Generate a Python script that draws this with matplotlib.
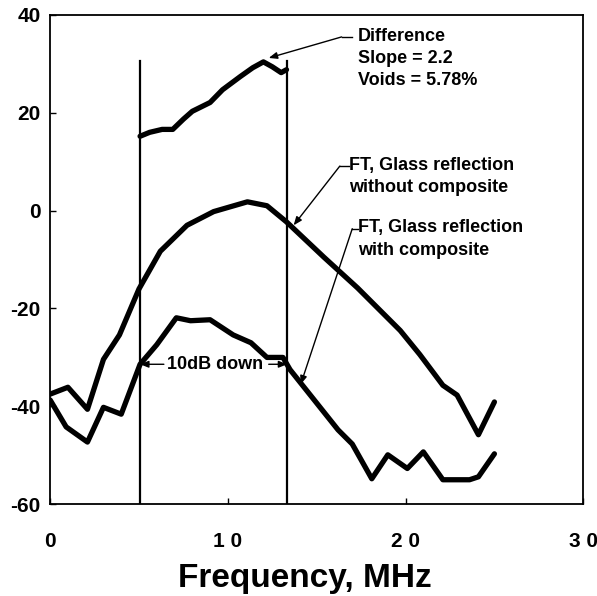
import numpy as np
from matplotlib import pyplot as plt

plt.rcParams['font.family'] = ['Liberation Sans', 'DejaVu Sans']
plt.rcParams['font.weight'] = 'bold'
plt.rcParams['axes.unicode_minus'] = False

# FT, glass reflection without composite
freqNoComp = [0, 1.0, 2.1, 3.0, 3.9, 5.0, 6.2, 7.7, 9.2, 11.1, 12.2, 13.3, 15.4, 17.3, 19.7, 20.8, 22.1, 22.9, 24.1, 25.0]
dbNoComp = [-37.5, -36.1, -40.6, -30.4, -25.4, -16.0, -8.3, -3.0, -0.2, 1.8, 1.0, -2.3, -9.5, -15.8, -24.5, -29.4, -35.7, -37.7, -45.8, -39.1]

# FT, glass reflection with composite
freqComp = [0, 0.9, 2.1, 3.0, 4.0, 5.06, 6.0, 7.1, 7.9, 9.0, 10.3, 11.3, 12.2, 13.1, 13.5, 16.2, 17.0, 18.1, 19.0, 20.1, 21.0, 22.1, 23.6, 24.1, 25.0]
dbComp = [-38.7, -44.2, -47.3, -40.2, -41.6, -31.4, -27.4, -21.9, -22.5, -22.3, -25.4, -27.0, -30.0, -30.0, -32.5, -44.8, -47.7, -54.8, -49.9, -52.7, -49.3, -55.0, -55.0, -54.4, -49.7]

# difference between the two inside the 10dB band
freqDiff = [5.06, 5.6, 6.3, 6.9, 7.5, 8.0, 9.0, 9.7, 10.7, 11.4, 12.0, 12.5, 13.0, 13.3]
dbDiff = [15.2, 16.0, 16.6, 16.6, 18.7, 20.3, 22.1, 24.7, 27.4, 29.2, 30.4, 29.4, 28.2, 28.8]

bandEdges = [5.06, 13.34]
bandTop = 30.6

xTicks = [0, 10, 20, 30]
xTickLabels = ["0", "1 0", "2 0", "3 0"]
yTicks = [-60, -40, -20, 0, 20, 40]

fig = plt.figure(figsize=(5.97, 5.96), dpi=100)
ax = fig.add_axes([0.084, 0.154, 0.893, 0.821])

lw = 3.8
ax.plot(freqNoComp, dbNoComp, color="black", lw=lw, solid_joinstyle="round", solid_capstyle="round")
ax.plot(freqComp, dbComp, color="black", lw=lw, solid_joinstyle="round", solid_capstyle="round")
ax.plot(freqDiff, dbDiff, color="black", lw=lw, solid_joinstyle="round", solid_capstyle="round")
for xb in bandEdges:
    ax.plot([xb, xb], [-60, bandTop], color="black", lw=1.6)

arrow = dict(arrowstyle="-|>,head_length=0.5,head_width=0.2", color="black", lw=1.0, shrinkA=0, shrinkB=0)
fs = 13

# Difference label
ax.plot([16.4, 17.0], [35.5, 35.5], color="black", lw=1.0)
ax.annotate("", xy=(12.3, 31.2), xytext=(16.4, 35.5), arrowprops=arrow)
ax.text(17.3, 37.4, "Difference\nSlope = 2.2\nVoids = 5.78%", fontsize=fs, fontweight="bold",
        va="top", ha="left", linespacing=1.4)

# without composite label
ax.plot([16.3, 16.8], [9.1, 9.1], color="black", lw=1.0)
ax.annotate("", xy=(13.7, -3.0), xytext=(16.3, 9.1), arrowprops=arrow)
ax.text(16.8, 11.0, "FT, Glass reflection\nwithout composite", fontsize=fs, fontweight="bold",
        va="top", ha="left", linespacing=1.4)

# with composite label
ax.plot([17.0, 17.3], [-3.7, -3.7], color="black", lw=1.0)
ax.annotate("", xy=(14.1, -35.5), xytext=(17.0, -3.7), arrowprops=arrow)
ax.text(17.3, -1.8, "FT, Glass reflection\nwith composite", fontsize=fs, fontweight="bold",
        va="top", ha="left", linespacing=1.4)

# 10dB down
ax.annotate("", xy=(bandEdges[0], -31.4), xytext=(6.4, -31.4), arrowprops=arrow)
ax.annotate("", xy=(bandEdges[1], -31.4), xytext=(12.3, -31.4), arrowprops=arrow)
ax.text(9.3, -31.4, "10dB down", fontsize=fs, fontweight="bold", ha="center", va="center")

ax.set_xlim(0, 30)
ax.set_ylim(-60, 40)
ax.set_xticks(xTicks)
ax.set_xticklabels(xTickLabels)
ax.set_yticks(yTicks)
ax.tick_params(axis="both", direction="in", length=4, width=1)
ax.tick_params(axis="x", pad=20, labelsize=15)
ax.tick_params(axis="y", pad=7, labelsize=15)
for lab in ax.get_xticklabels() + ax.get_yticklabels():
    lab.set_fontweight("bold")
for sp in ax.spines.values():
    sp.set_linewidth(1.3)

ax.set_xlabel("Frequency, MHz", fontsize=24, fontweight="bold")
ax.xaxis.set_label_coords(0.478, -0.121)

plt.savefig("out.png", dpi=100)
plt.close()
